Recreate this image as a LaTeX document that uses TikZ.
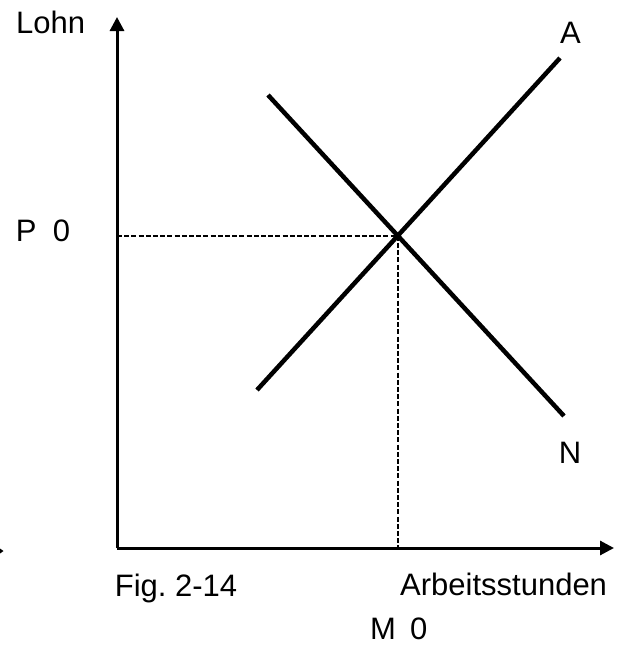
\documentclass[tikz,border=0pt]{standalone}
\usepackage{fontspec}
\setmainfont{Liberation Sans}
\usetikzlibrary{arrows.meta}
\frenchspacing
\begin{document}
\begin{tikzpicture}[x=1pt,y=-1pt,
  axis/.style={line width=3pt,-{Triangle[length=14pt,width=14pt]}},
  curve/.style={line width=4.5pt},
  guide/.style={line width=2.4pt,dash pattern=on 5pt off 2.2pt},
  lbl/.style={anchor=base west,inner sep=0pt,font=\fontsize{31}{36}\selectfont}]
\useasboundingbox (0,0) rectangle (631,646);
\fill[white] (0,0) rectangle (631,646);
% axes
\coordinate (O) at (117,548);
\coordinate (Ytop) at (117,17);
\coordinate (Xend) at (614,548);
\draw[axis] (O) -- (Ytop);
\draw[axis] (O) -- (Xend);
% curves
\coordinate (N1) at (268,95);
\coordinate (N2) at (564,416);
\coordinate (A1) at (257,390);
\coordinate (A2) at (560,58);
\draw[curve] (N1) -- (N2);
\draw[curve] (A1) -- (A2);
\coordinate (E) at (intersection of N1--N2 and A1--A2);
\coordinate (Ey) at (O |- E);
\coordinate (Ex) at (E |- O);
\draw[guide] (Ey) -- (E) -- (Ex);
% small fragment at left edge
\fill (0,548.5) -- (3.5,551) -- (0,553.5) -- cycle;
% labels
\node[lbl] (lohn) at (16,33) {Lohn};
\node[lbl] (p0) at (15.6,241) {P\hspace{16.5pt}0};
\node[lbl] (a) at (560,43) {A};
\node[lbl] (n) at (558.6,463) {N};
\node[lbl] (fig) at (114.7,596) {Fig.\ 2-14};
\node[lbl] (arb) at (400,595) {Arbeitsstunden};
\node[lbl] (m0) at (370,639) {M\hspace{14pt}0};
\end{tikzpicture}
\end{document}
